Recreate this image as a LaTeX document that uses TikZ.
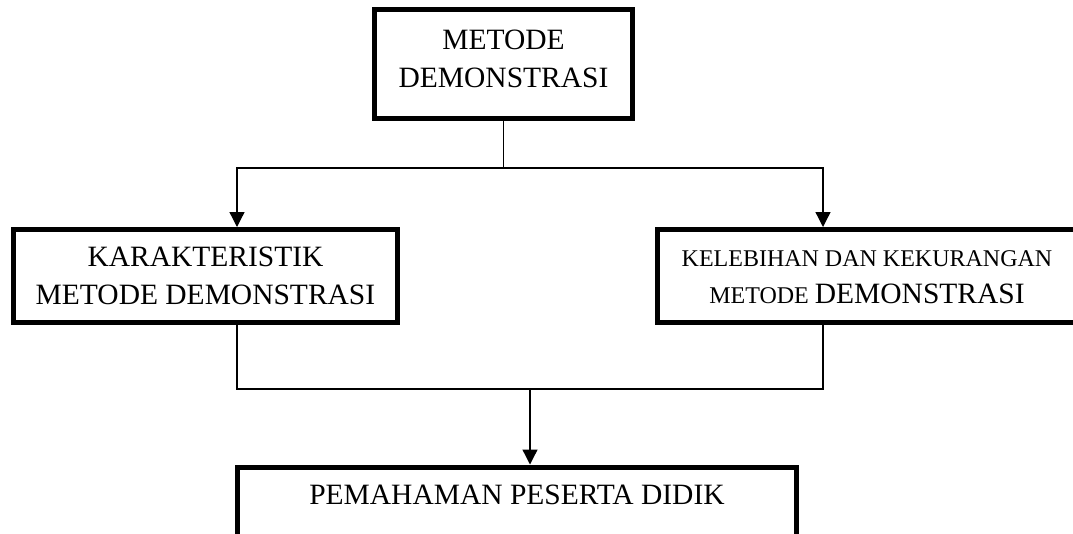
\documentclass[tikz,border=0pt]{standalone}
\usepackage{fontspec}
\setmainfont{Liberation Serif}
\usetikzlibrary{arrows.meta, positioning}

\begin{document}
\begin{tikzpicture}[
    x=1pt, y=-1pt,
    box/.style={draw, line width=5pt, align=center, inner sep=0pt, font=\fontsize{29.5}{38}\selectfont},
    line/.style={line width=1.3pt},
    arrow/.style={line width=1.3pt, -{Triangle[length=15pt, width=15pt]}}
]
    \useasboundingbox (0,0) rectangle (1073,533);
    \clip (0,0) rectangle (1073,533);

    \node[box, minimum width=258pt, minimum height=109pt, text depth=10pt] (metode) at (503.5,64) {METODE\\DEMONSTRASI};
    \node[box, minimum width=384pt, minimum height=93pt] (kar) at (205.5,276) {KARAKTERISTIK\\METODE DEMONSTRASI};
    \node[box, minimum width=420pt, minimum height=93pt, text height=56pt, font=\fontsize{24}{37}\selectfont] (kel) at (867,276) {KELEBIHAN DAN KEKURANGAN\\METODE {\fontsize{29.5}{37}\selectfont DEMONSTRASI}};
    \node[box, minimum width=559pt, text height=37pt, text depth=60pt, anchor=north] (paham) at (517,464.5) {PEMAHAMAN PESERTA DIDIK};

    \coordinate (topjoin) at (503.5,168);
    \coordinate (botjoin) at (530,389);

    \draw[line] (metode.south) -- (topjoin);
    \draw[arrow] (topjoin) -| ([xshift=31.5pt]kar.north);
    \draw[arrow] (topjoin) -| ([xshift=-44pt]kel.north);
    \draw[line] ([xshift=31.5pt]kar.south) |- (botjoin) -| ([xshift=-44pt]kel.south);
    \draw[arrow] (botjoin) -- (botjoin |- paham.north);
\end{tikzpicture}
\end{document}
